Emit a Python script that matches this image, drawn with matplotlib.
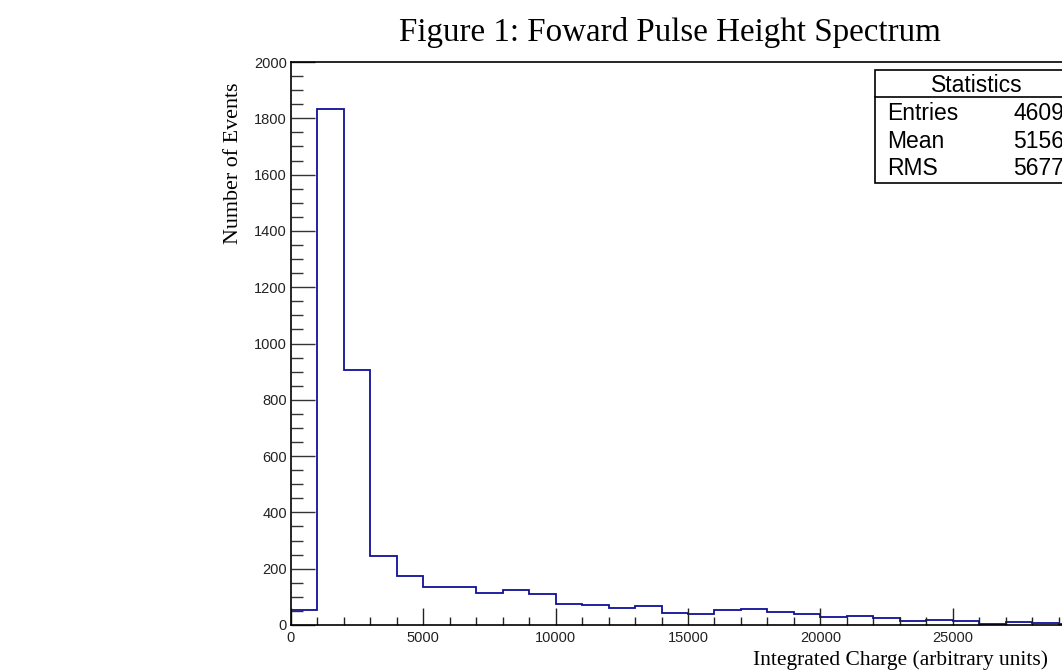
import matplotlib
matplotlib.use("Agg")
import matplotlib.pyplot as plt
import numpy as np
from matplotlib.ticker import MultipleLocator, FixedLocator

# Histogram contents, 1000-unit bins from 0 to 30000
bin_edges = np.arange(0, 31000, 1000)
counts = [55, 1832, 905, 244, 173, 136, 136, 114, 125, 110,
          76, 72, 62, 69, 43, 39, 52, 58, 47, 40,
          28, 32, 25, 14, 18, 14, 2, 9, 6, 5]
x_major = [0, 5000, 10000, 15000, 20000, 25000]

stat_names = ["Entries", "Mean", "RMS"]
stat_values = ["4609", "5156", "5677"]

W, H = 1062, 671
fig = plt.figure(figsize=(W / 100, H / 100), dpi=100)

# frame in pixels: x 291..1085 (runs off the right edge), y 62..625
ax = fig.add_axes([291 / W, 1 - 625 / H, 794 / W, 563 / H])
ax.stairs(counts, bin_edges, color="#10109a", linewidth=1.3, baseline=0)

ax.set_xlim(0, 30000)
ax.set_ylim(0, 2000)
ax.xaxis.set_major_locator(FixedLocator(x_major))
ax.xaxis.set_minor_locator(MultipleLocator(1000))
ax.yaxis.set_major_locator(MultipleLocator(200))
ax.yaxis.set_minor_locator(MultipleLocator(50))

ax.tick_params(axis="y", which="major", direction="in", length=17, width=1,
               color="#333333", labelsize=10.5, pad=3)
ax.tick_params(axis="y", which="minor", direction="in", length=8.6, width=1,
               color="#333333")
ax.tick_params(axis="x", which="major", direction="in", length=12, width=1,
               color="#222222", labelsize=10.5, pad=4)
ax.tick_params(axis="x", which="minor", direction="in", length=6, width=1,
               color="#222222")
for lab in ax.get_xticklabels() + ax.get_yticklabels():
    lab.set_family("Liberation Sans")
    lab.set_color("#222222")

for sp in ax.spines.values():
    sp.set_linewidth(1.2)

fig.text(670 / W, 1 - 33 / H, "Figure 1: Foward Pulse Height Spectrum",
         ha="center", va="center", family="Liberation Serif", fontsize=23.8)
fig.text(1048 / W, 1 - 660 / H, "Integrated Charge (arbitrary units)",
         ha="right", va="center", family="Liberation Serif", fontsize=15.5)
fig.text(233 / W, 1 - 83 / H, "Number of Events", rotation=90,
         ha="center", va="top", family="Liberation Serif", fontsize=15.8)

# statistics box, cut by the right edge like the original canvas
bx0, by0, by1, bsep = 875, 70, 183, 97
box = plt.Rectangle((bx0 / W, 1 - by1 / H), 300 / W, (by1 - by0) / H,
                    transform=fig.transFigure, fill=True, facecolor="white",
                    edgecolor="black", linewidth=1.2)
fig.add_artist(box)
fig.add_artist(plt.Line2D([bx0 / W, 1.2], [1 - bsep / H, 1 - bsep / H],
                          transform=fig.transFigure, color="black", linewidth=1.2))
fig.text(977 / W, 1 - 85 / H, "Statistics", ha="center", va="center",
         family="Liberation Sans", fontsize=16.5)
for i, (name, val) in enumerate(zip(stat_names, stat_values)):
    y = 1 - (113 + 28 * i) / H
    fig.text(887 / W, y, name, ha="left", va="center",
             family="Liberation Sans", fontsize=16.5)
    fig.text(1013 / W, y, val, ha="left", va="center",
             family="Liberation Sans", fontsize=16.5)

plt.savefig("out.png", dpi=100)
